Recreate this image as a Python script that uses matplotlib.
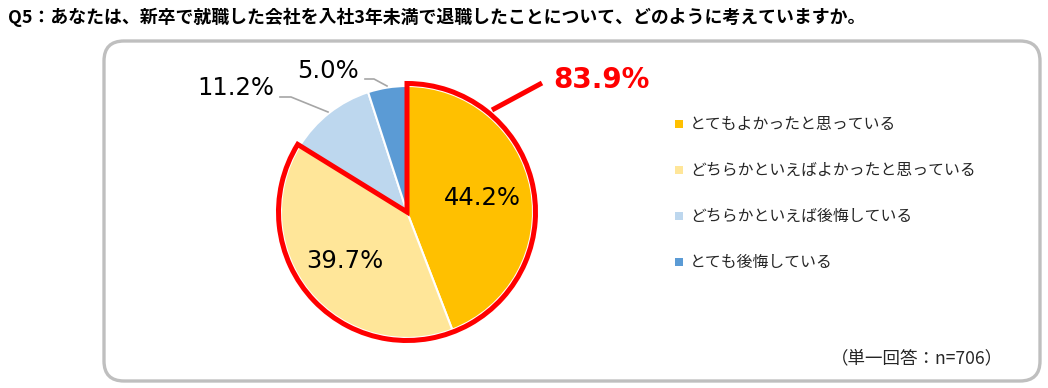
import matplotlib
matplotlib.use('Agg')
import matplotlib.pyplot as plt
from matplotlib.patches import Wedge, FancyBboxPatch, Rectangle
import numpy as np

plt.rcParams['font.family'] = ['Noto Sans CJK JP', 'DejaVu Sans']

title = 'Q5：あなたは、新卒で就職した会社を入社3年未満で退職したことについて、どのように考えていますか。'
labels = ['とてもよかったと思っている', 'どちらかといえばよかったと思っている',
          'どちらかといえば後悔している', 'とても後悔している']
values = [44.2, 39.7, 11.2, 5.0]
colors = ['#FFC000', '#FFE699', '#BDD7EE', '#5B9BD5']
positive_total = 83.9
note = '（単一回答：n=706）'

W, H = 1048, 388
fig = plt.figure(figsize=(W / 100, H / 100), dpi=100)
ax = fig.add_axes([0, 0, 1, 1])

# rounded frame
frame = FancyBboxPatch((104, 7), 936, 340, boxstyle='round,pad=0,rounding_size=20',
                       facecolor='white', edgecolor='#BFBFBF', linewidth=2.4)
ax.add_patch(frame)

cx, cy, r = 407, 176, 126
wedges, _ = ax.pie(values, colors=colors, startangle=90, counterclock=False,
                   center=(cx, cy), radius=r,
                   wedgeprops=dict(edgecolor='white', linewidth=1.5))

# red outline around the two positive slices
end_ang = 90 - 360 * (values[0] + values[1]) / sum(values)
ax.add_patch(Wedge((cx, cy), 128.5, end_ang, 90, fill=False,
                   edgecolor='#FF0000', linewidth=3.6, joinstyle='miter', zorder=5))

# leader line and total
ax.plot([492, 542], [H - 110, H - 83], color='#FF0000', lw=3.6,
        solid_capstyle='butt', zorder=5)
ax.text(553, H - 80, f'{positive_total:.1f}%', color='#FF0000', fontsize=20,
        fontweight='bold', family='DejaVu Sans', ha='left', va='center')

# slice labels
label_pos = [(482, 198), (345, 261), (236, 88), (328, 71)]
for v, (lx, ly) in zip(values, label_pos):
    ax.text(lx, H - ly, f'{v:.1f}%', fontsize=17.5, family='DejaVu Sans',
            color='black', ha='center', va='center', zorder=6)

# gray leader lines for small slices
ax.plot([280, 291, 328], [H - 97, H - 97, H - 112], color='#A6A6A6', lw=1.2)
ax.plot([365, 374, 387], [H - 79, H - 79, H - 86], color='#A6A6A6', lw=1.2)

# legend
for i, (lab, c) in enumerate(zip(labels, colors)):
    yy = H - (124 + i * 46)
    ax.add_patch(Rectangle((675, yy - 4), 8, 8, facecolor=c, edgecolor='none'))
    ax.text(690, yy, lab, fontsize=11.4, color='#262626', ha='left', va='center')

ax.text(1003, H - 358, note, fontsize=12.6, color='#262626', ha='right', va='center')

fig.text(8 / W, 1 - 17 / H, title, fontsize=12.9, fontweight='bold',
         color='black', ha='left', va='center')

ax.set_xlim(0, W)
ax.set_ylim(0, H)
ax.set_aspect('auto')
ax.axis('off')

fig.savefig('out.png', dpi=100)
